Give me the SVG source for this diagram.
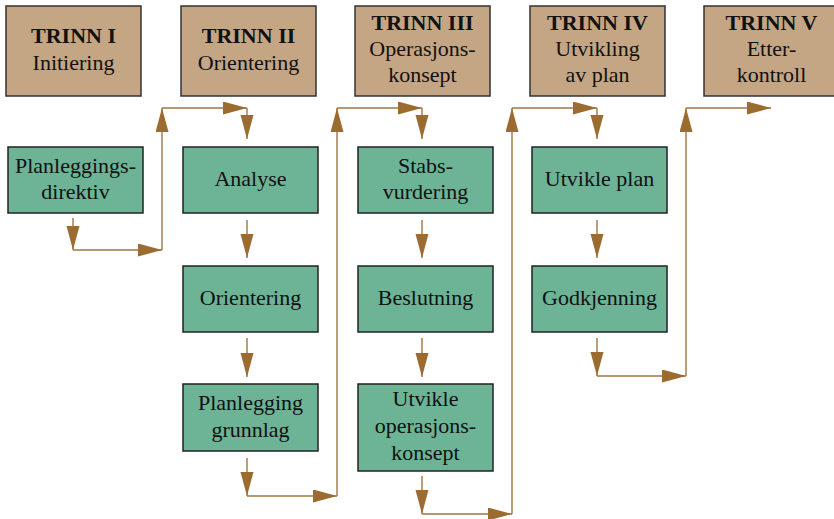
<svg xmlns="http://www.w3.org/2000/svg" width="834" height="519" viewBox="0 0 834 519">
<style>
.hdr{fill:#C4A584;stroke:#333;stroke-width:1.5}
.box{fill:#6DB396;stroke:#222;stroke-width:1.5}
text{font-family:"Liberation Serif","Times New Roman",serif;font-size:22px;fill:#111;text-anchor:middle}
.b{font-weight:bold}
.c{fill:none;stroke:#A27540;stroke-width:1.4;marker-end:url(#ah)}
</style>
<defs>
<marker id="ah" markerUnits="userSpaceOnUse" markerWidth="26" markerHeight="14" refX="24" refY="6.5" orient="auto" viewBox="0 0 26 14">
<path d="M0,0 L24,6.5 L0,13 z" fill="#9C6B30"/>
</marker>
</defs>
<rect width="834" height="519" fill="#fff"/>
<g id="trinn1"><rect class="hdr" x="6" y="6" width="135" height="90"/><text x="73.5" y="43" class="b">TRINN I</text><text x="73.5" y="70">Initiering</text></g>
<g id="trinn2"><rect class="hdr" x="181" y="6" width="135" height="90"/><text x="248.5" y="43" class="b">TRINN II</text><text x="248.5" y="70">Orientering</text></g>
<g id="trinn3"><rect class="hdr" x="355" y="6" width="135" height="90"/><text x="422.5" y="30" class="b">TRINN III</text><text x="422.5" y="56">Operasjons-</text><text x="422.5" y="82">konsept</text></g>
<g id="trinn4"><rect class="hdr" x="530" y="6" width="135" height="90"/><text x="597.5" y="30" class="b">TRINN IV</text><text x="597.5" y="56">Utvikling</text><text x="597.5" y="82">av plan</text></g>
<g id="trinn5"><rect class="hdr" x="704" y="6" width="135" height="90"/><text x="771.5" y="30" class="b">TRINN V</text><text x="771.5" y="56">Etter-</text><text x="771.5" y="82">kontroll</text></g>

<g id="direktiv"><rect class="box" x="8" y="147" width="135" height="66"/><text x="75.5" y="173">Planleggings-</text><text x="75.5" y="199">direktiv</text></g>
<g id="analyse"><rect class="box" x="183" y="147" width="135" height="66"/><text x="250.5" y="186">Analyse</text></g>
<g id="orientering"><rect class="box" x="183" y="266" width="135" height="66"/><text x="250.5" y="305">Orientering</text></g>
<g id="grunnlag"><rect class="box" x="183" y="384" width="135" height="67"/><text x="250.5" y="410">Planlegging</text><text x="250.5" y="437">grunnlag</text></g>
<g id="stabs"><rect class="box" x="358" y="147" width="135" height="66"/><text x="425.5" y="173">Stabs-</text><text x="425.5" y="199">vurdering</text></g>
<g id="beslutning"><rect class="box" x="358" y="266" width="135" height="66"/><text x="425.5" y="305">Beslutning</text></g>
<g id="utvikleop"><rect class="box" x="358" y="384" width="135" height="87"/><text x="425.5" y="406">Utvikle</text><text x="425.5" y="433">operasjons-</text><text x="425.5" y="460">konsept</text></g>
<g id="utvikleplan"><rect class="box" x="532" y="147" width="135" height="66"/><text x="599.5" y="186">Utvikle plan</text></g>
<g id="godkjenning"><rect class="box" x="532" y="266" width="135" height="66"/><text x="599.5" y="305">Godkjenning</text></g>

<g id="connectors">
<path class="c" d="M73,218 V250"/>
<path class="c" d="M73,250 H162"/>
<path class="c" d="M162,250 V108"/>
<path class="c" d="M162,108 H247"/>
<path class="c" d="M247,108 V139"/>
<path class="c" d="M247,220 V258"/>
<path class="c" d="M247,338 V377"/>
<path class="c" d="M247,458 V496"/>
<path class="c" d="M247,496 H337"/>
<path class="c" d="M337,496 V108"/>
<path class="c" d="M337,108 H422"/>
<path class="c" d="M422,108 V139"/>
<path class="c" d="M422,220 V258"/>
<path class="c" d="M422,338 V377"/>
<path class="c" d="M422,476 V514"/>
<path class="c" d="M422,514 H512"/>
<path class="c" d="M512,514 V108"/>
<path class="c" d="M512,108 H597"/>
<path class="c" d="M597,108 V139"/>
<path class="c" d="M597,220 V258"/>
<path class="c" d="M597,338 V376"/>
<path class="c" d="M597,376 H686"/>
<path class="c" d="M686,376 V108"/>
<path class="c" d="M686,108 H771"/>
</g>
</svg>
